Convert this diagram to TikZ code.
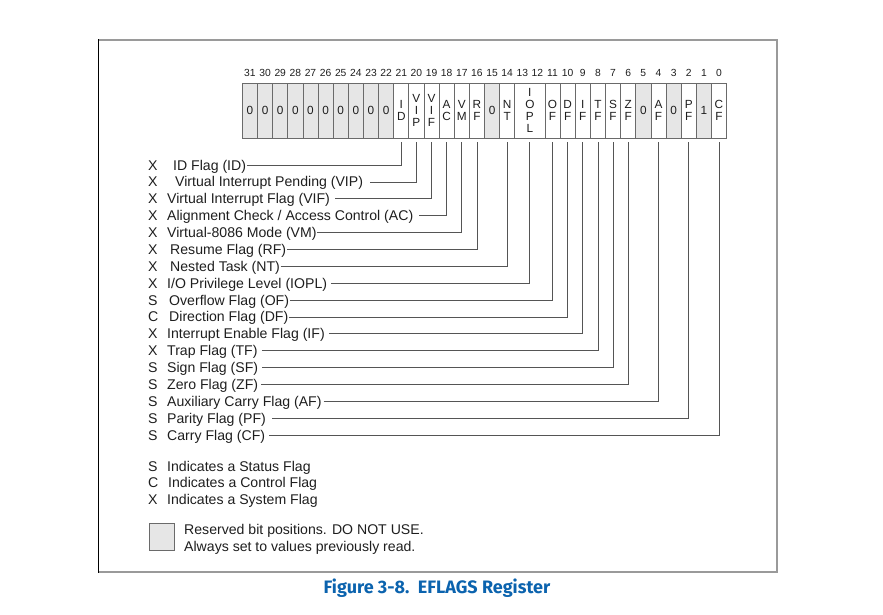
\documentclass[tikz,border=0pt]{standalone}
\usepackage{fontspec}
\setmainfont{Liberation Sans}
\newfontfamily\captionfont{Fira Sans}
\definecolor{ink}{HTML}{1E1E1E}
\definecolor{cellline}{HTML}{6A6A6A}
\definecolor{rsvfill}{HTML}{E6E6E6}
\definecolor{wire}{HTML}{555555}
\definecolor{framegray}{HTML}{9A9A9A}
\definecolor{capblue}{HTML}{0B63AE}

\begin{document}
\begin{tikzpicture}[x=1pt,y=-1pt,
  declare function={cx(\b)=242.4+(31.5-\b)*15.13;},
  bitnum/.style={font=\fontsize{10.3}{12}\selectfont, text=ink, inner sep=0},
  cell/.style={draw=cellline, line width=0.7pt, fill=white,
    minimum width=15.13pt, minimum height=55pt, inner sep=0,
    align=center, text=ink, font=\fontsize{11.8}{11.8}\selectfont},
  rsv/.style={fill=rsvfill},
  wide/.style={minimum width=30.26pt},
  kind/.style={anchor=west, inner sep=0, text=ink,
    text height=10pt, text depth=0pt, font=\fontsize{14.1}{16}\selectfont},
  flagname/.style={kind},
  conn/.style={draw=wire, line width=0.8pt, shorten >=4pt},
]
\useasboundingbox (0,0) rectangle (883,614);

% outer frame: dark left edge, grey top, right and bottom edges
\draw[framegray, line width=1.8pt] (98,40) -- (777,40) -- (777,572) -- (98,572);
\draw[black, line width=0.9pt] (98,39.1) -- (98,572.9);

% bit position numbers
\foreach \b in {0,...,31}
  \node[bitnum] (n\b) at ({cx(\b)},73) {\b};

% register cells
\foreach \b in {31,30,29,28,27,26,25,24,23,22}
  \node[cell, rsv] (b\b) at ({cx(\b)},110.5) {0};
\node[cell] (bID)   at ({cx(21)},110.5) {I\\D};
\node[cell] (bVIP)  at ({cx(20)},110.5) {V\\I\\P};
\node[cell] (bVIF)  at ({cx(19)},110.5) {V\\I\\F};
\node[cell] (bAC)   at ({cx(18)},110.5) {A\\C};
\node[cell] (bVM)   at ({cx(17)},110.5) {V\\M};
\node[cell] (bRF)   at ({cx(16)},110.5) {R\\F};
\node[cell, rsv] (b15) at ({cx(15)},110.5) {0};
\node[cell] (bNT)   at ({cx(14)},110.5) {N\\T};
\node[cell, wide] (bIOPL) at ({cx(12.5)},110.5) {I\\O\\P\\L};
\node[cell] (bOF)   at ({cx(11)},110.5) {O\\F};
\node[cell] (bDF)   at ({cx(10)},110.5) {D\\F};
\node[cell] (bIF)   at ({cx(9)},110.5) {I\\F};
\node[cell] (bTF)   at ({cx(8)},110.5) {T\\F};
\node[cell] (bSF)   at ({cx(7)},110.5) {S\\F};
\node[cell] (bZF)   at ({cx(6)},110.5) {Z\\F};
\node[cell, rsv] (b5) at ({cx(5)},110.5) {0};
\node[cell] (bAF)   at ({cx(4)},110.5) {A\\F};
\node[cell, rsv] (b3) at ({cx(3)},110.5) {0};
\node[cell] (bPF)   at ({cx(2)},110.5) {P\\F};
\node[cell, rsv] (b1) at ({cx(1)},110.5) {1};
\node[cell] (bCF)   at ({cx(0)},110.5) {C\\F};

% flag kinds
\foreach \k/\y in {X/165, X/181.9, X/198.75, X/215.6, X/232.5, X/249.4,
                   X/266.25, X/283.1, S/300, C/316.9, X/333.75, X/350.6,
                   S/367.5, S/384.4, S/401.25, S/418.1, S/435}
  \node[kind] at (148,\y) {\k};

% flag names
\node[flagname] (nID)   at (173,165)    {ID Flag (ID)};
\node[flagname] (nVIP)  at (175,181.9)  {Virtual Interrupt Pending (VIP)};
\node[flagname] (nVIF)  at (167,198.75) {Virtual Interrupt Flag (VIF)};
\node[flagname] (nAC)   at (167,215.6)  {Alignment Check / Access Control (AC)};
\node[flagname] (nVM)   at (167,232.5)  {Virtual-8086 Mode (VM)};
\node[flagname] (nRF)   at (170,249.4)  {Resume Flag (RF)};
\node[flagname] (nNT)   at (170,266.25) {Nested Task (NT)};
\node[flagname] (nIOPL) at (167,283.1)  {I/O Privilege Level (IOPL)};
\node[flagname] (nOF)   at (169,300)    {Overflow Flag (OF)};
\node[flagname] (nDF)   at (169,316.9)  {Direction Flag (DF)};
\node[flagname] (nIF)   at (167,333.75) {Interrupt Enable Flag (IF)};
\node[flagname] (nTF)   at (167,350.6)  {Trap Flag (TF)};
\node[flagname] (nSF)   at (167,367.5)  {Sign Flag (SF)};
\node[flagname] (nZF)   at (167,384.4)  {Zero Flag (ZF)};
\node[flagname] (nAF)   at (167,401.25) {Auxiliary Carry Flag (AF)};
\node[flagname] (nPF)   at (167,418.1)  {Parity Flag (PF)};
\node[flagname] (nCF)   at (167,435)    {Carry Flag (CF)};

% leaders from each name up to its bit
\draw[conn] ([xshift=0.5pt]nID.east)   -| (bID.south);
\draw[conn] ([xshift=7pt]nVIP.east)    -| (bVIP.south);
\draw[conn] ([xshift=5pt]nVIF.east)    -| (bVIF.south);
\draw[conn] ([xshift=6pt]nAC.east)     -| (bAC.south);
\draw[conn] ([xshift=0.5pt]nVM.east)   -| (bVM.south);
\draw[conn] ([xshift=0.5pt]nRF.east)   -| (bRF.south);
\draw[conn] ([xshift=0.5pt]nNT.east)   -| (bNT.south);
\draw[conn] ([xshift=4pt]nIOPL.east)   -| (bIOPL.south);
\draw[conn] ([xshift=0.5pt]nOF.east)   -| (bOF.south);
\draw[conn] ([xshift=0.5pt]nDF.east)   -| (bDF.south);
\draw[conn] ([xshift=4pt]nIF.east)     -| (bIF.south);
\draw[conn] ([xshift=4pt]nTF.east)     -| (bTF.south);
\draw[conn] ([xshift=4pt]nSF.east)     -| (bSF.south);
\draw[conn] ([xshift=3pt]nZF.east)     -| (bZF.south);
\draw[conn] ([xshift=2pt]nAF.east)     -| (bAF.south);
\draw[conn] ([xshift=6pt]nPF.east)     -| (bPF.south);
\draw[conn] ([xshift=4pt]nCF.east)     -| (bCF.south);

% legend
\node[kind] (kS) at (148,466)   {S};
\node[flagname] (tS) at (167,466)   {Indicates a Status Flag};
\node[kind] (kC) at (148,482.5) {C};
\node[flagname] (tC) at (168,482.5) {Indicates a Control Flag};
\node[kind] (kX) at (148,499)   {X};
\node[flagname] (tX) at (167,499)   {Indicates a System Flag};

\node[draw=cellline, line width=0.8pt, fill=rsvfill, minimum width=25pt,
      minimum height=27pt, inner sep=0] (rbox) at (161.5,536.5) {};
\node[flagname] (r1) at (184,529.5) {Reserved bit positions. DO NOT USE.};
\node[flagname] (r2) at (184,546)   {Always set to values previously read.};

% caption
\node[font=\captionfont\bfseries\fontsize{18}{20}\selectfont, text=capblue,
      inner sep=0] (cap) at (437,588) {Figure 3-8.\ \ EFLAGS Register};
\end{tikzpicture}
\end{document}
